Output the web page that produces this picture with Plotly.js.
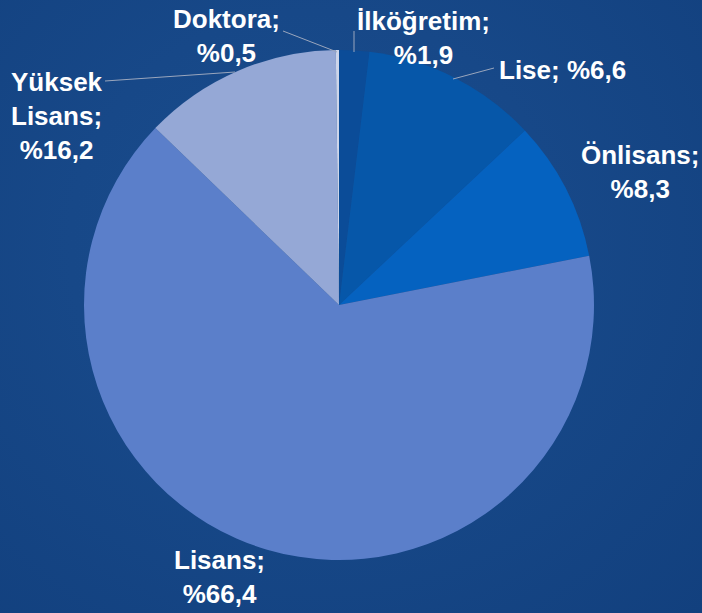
<!DOCTYPE html>
<html>
<head>
<meta charset="utf-8">
<script src="https://cdn.plot.ly/plotly-3.0.1.min.js"></script>
<style>
  html, body { margin: 0; padding: 0; }
  body { width: 702px; height: 613px; overflow: hidden;
    background: radial-gradient(ellipse at 45% 40%, #1a4d8d 0%, #174888 45%, #12407e 100%); }
  #chart { width: 702px; height: 613px; }
</style>
</head>
<body>
<div id="chart"></div>
<script>
// Categories in drawing order (clockwise from 12 o'clock)
const categories = ["İlköğretim", "Lise", "Önlisans", "Lisans", "Yüksek Lisans", "Doktora"];
// Slice shares as drawn in the picture
const sliceShares = [1.9, 11.1, 8.9, 65.3, 12.6, 0.2];
// Percentages printed in the data labels
const labelValues = ["1,9", "6,6", "8,3", "66,4", "16,2", "0,5"];
// How each label text is broken into lines
const labelTexts = [
  "İlköğretim;<br>%" + labelValues[0],
  "Lise; %" + labelValues[1],
  "Önlisans;<br>%" + labelValues[2],
  "Lisans;<br>%" + labelValues[3],
  "Yüksek<br>Lisans;<br>%" + labelValues[4],
  "Doktora;<br>%" + labelValues[5]
];
const sliceColors = ["#0b4c98", "#0657a9", "#0562c0", "#5b7fca", "#95a8d6", "#cdd5ea"];

const W = 702, H = 613;
const px = x => x / W;
const py = y => 1 - y / H;

// label centre positions (pixels)
const labelPos = [
  [423, 38], [562, 70], [640, 172], [220, 577], [57, 116], [226, 36]
];
// leader lines (pixels)
const leaders = [
  [[354, 31], [354, 52]],
  [[453, 79], [494, 68]],
  null,
  null,
  [[105, 81], [235, 72]],
  [[283, 31], [337, 52]]
];

const annotations = categories.map((c, i) => ({
  xref: "paper", yref: "paper",
  x: px(labelPos[i][0]), y: py(labelPos[i][1]),
  xanchor: "center", yanchor: "middle", align: "center",
  showarrow: false,
  text: labelTexts[i],
  font: { family: "Liberation Sans, Arial, sans-serif", size: 26, color: "#ffffff", weight: 700 }
}));

const shapes = leaders.filter(l => l).map(l => ({
  type: "line", xref: "paper", yref: "paper",
  x0: px(l[0][0]), y0: py(l[0][1]), x1: px(l[1][0]), y1: py(l[1][1]),
  line: { color: "#9aa6bd", width: 1 }
}));

const trace = {
  type: "pie",
  labels: categories,
  values: sliceShares,
  sort: false,
  direction: "clockwise",
  rotation: 0,
  textinfo: "none",
  hoverinfo: "label+percent",
  marker: { colors: sliceColors, line: { width: 0 } },
  domain: { x: [px(84), px(594)], y: [py(560), py(50)] },
  showlegend: false
};

const layout = {
  width: W, height: H,
  margin: { l: 0, r: 0, t: 0, b: 0 },
  paper_bgcolor: "rgba(0,0,0,0)",
  plot_bgcolor: "rgba(0,0,0,0)",
  showlegend: false,
  annotations: annotations,
  shapes: shapes
};

Plotly.newPlot("chart", [trace], layout, { displayModeBar: false, staticPlot: true });
</script>
</body>
</html>
